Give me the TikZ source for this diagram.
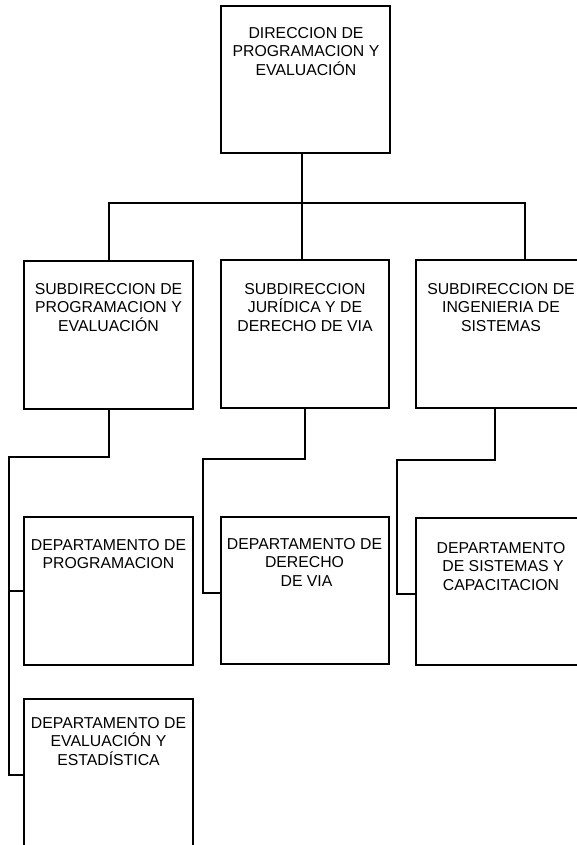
\documentclass[tikz,border=0pt]{standalone}
\usepackage{fontspec}
\setmainfont{Liberation Sans}
\begin{document}
\begin{tikzpicture}[x=1pt,y=-1pt,
  box/.style={draw=black,line width=2pt,minimum width=169pt,minimum height=148pt,inner sep=0pt},
  txt/.style={anchor=north,inner sep=0pt,align=center,font=\fontsize{15.8pt}{18.6pt}\selectfont},
  link/.style={line width=2pt,draw=black}]
\useasboundingbox (0,0) rectangle (577,845);
\clip (0,0) rectangle (577,845);
% boxes
\node[box,minimum height=147pt] (top) at (305.5,79.5) {};
\node[box] (s1) at (108.5,335) {};
\node[box,minimum width=168pt] (s2) at (305,334) {};
\node[box,minimum width=170pt] (s3) at (501,334) {};
\node[box] (d1) at (108.5,591) {};
\node[box,minimum width=168pt,minimum height=147pt] (dm) at (304.5,590.5) {};
\node[box,minimum width=170pt,minimum height=147pt] (dr) at (501,591.5) {};
\node[box] (d2) at (108.5,773) {};
% texts
\node[txt] (t0) at (306,27) {DIRECCION DE\\PROGRAMACION Y\\EVALUACIÓN};
\node[txt] (t1) at (108.5,283) {SUBDIRECCION DE\\PROGRAMACION Y\\EVALUACIÓN};
\node[txt] (t2) at (305,283) {SUBDIRECCION\\JURÍDICA Y DE\\DERECHO DE VIA};
\node[txt] (t3) at (501,283) {SUBDIRECCION DE\\INGENIERIA DE\\SISTEMAS};
\node[txt] (t4) at (108.5,539) {DEPARTAMENTO DE\\PROGRAMACION};
\node[txt] (t5) at (304.5,538) {DEPARTAMENTO DE\\DERECHO\\\hspace*{4pt}DE VIA};
\node[txt] (t6) at (501,542) {DEPARTAMENTO\\\hspace*{4pt}DE SISTEMAS Y\\CAPACITACION};
\node[txt] (t7) at (108.5,717) {DEPARTAMENTO DE\\EVALUACIÓN Y\\ESTADÍSTICA};
% level 1 -> 2
\coordinate (bus) at (302,203);
\coordinate (s3in) at ([xshift=24pt]s3.north);
\draw[link] ([xshift=-3.5pt]top.south) -- ([xshift=-3pt]s2.north);
\draw[link] (s1.north) |- (s3in |- bus) -- (s3in);
% level 2 -> 3
\coordinate (j1) at (9,457);
\coordinate (j2) at (203,459);
\coordinate (j3) at (397,460);
\draw[link] (s1.south) |- (j1) |- ([yshift=-2pt]d2.west);
\draw[link] (j1 |- d1.west) -- (d1.west);
\draw[link] (s2.south) |- (j2) |- ([yshift=-2.5pt]dm.west);
\draw[link] ([xshift=-6pt]s3.south) |- (j3) |- ([yshift=-2.5pt]dr.west);
\end{tikzpicture}
\end{document}
